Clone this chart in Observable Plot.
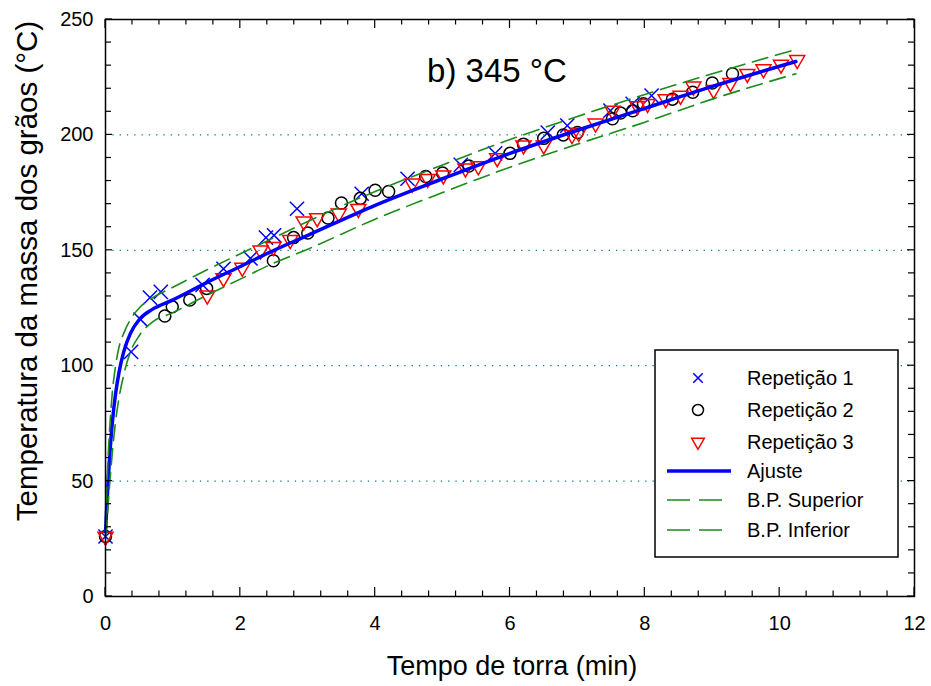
<!DOCTYPE html>
<html><head><meta charset="utf-8">
<script src="https://cdn.jsdelivr.net/npm/d3@7"></script>
<script src="https://cdn.jsdelivr.net/npm/@observablehq/plot@0.6"></script>
<style>body{margin:0;background:#fff} svg{display:block}</style>
</head><body><div id="chart"></div>
<script>
// ---- data ----
const rep1X = [0, 0.38, 0.52, 0.66, 0.82, 1.44, 1.75, 2.15, 2.38, 2.5, 2.84, 3.8, 4.48, 5.27, 5.78, 6.56, 6.85, 7.49, 7.82, 8.1];
const rep1Y = [26, 106, 120, 129.5, 132, 135, 142, 146.5, 155.5, 156.5, 168, 174.5, 181, 187, 192, 201, 204, 210.5, 213.5, 217];

const rep2X = [0, 0.88, 0.99, 1.25, 1.5, 2.49, 2.79, 3.0, 3.3, 3.5, 3.78, 4.0, 4.2, 4.75, 5.0, 5.39, 6.0, 6.2, 6.5, 6.79, 7.0, 7.52, 7.64, 7.82, 7.98, 8.41, 8.71, 9.0, 9.3];
const rep2Y = [26, 121.5, 125.5, 128.5, 133.5, 145.5, 155.5, 157.5, 164, 170.5, 172.5, 176, 175.5, 182, 183.5, 186.5, 192, 196, 198.5, 200, 201, 207, 209.5, 210.5, 213.5, 215.5, 218.5, 222.5, 226.5];

const rep3X = [0, 1.51, 1.75, 2.03, 2.3, 2.49, 2.74, 2.94, 3.14, 3.46, 3.75, 4.55, 4.78, 5.01, 5.34, 5.53, 5.81, 6.2, 6.5, 6.92, 7.02, 7.27, 7.52, 7.89, 8.04, 8.31, 8.53, 8.72, 9.02, 9.27, 9.52, 9.76, 10.02, 10.26];
const rep3Y = [26, 130.5, 138, 142.5, 150, 151.5, 154.5, 162.5, 164, 166, 168, 179, 181, 182.5, 185.5, 186.5, 190, 195.5, 195.5, 200, 201, 205, 210.5, 212.5, 213.5, 215.5, 217, 221, 219.5, 222.5, 226.5, 228.5, 230.5, 232.5];

const fitX   = [0, 0.03, 0.06, 0.1, 0.15, 0.2, 0.27, 0.37, 0.5, 0.7, 1, 1.5, 2, 2.5, 3, 4, 5, 6, 7, 8, 9, 10.24];
const fitY   = [28, 45, 60, 75, 88, 97, 106, 114, 120, 124.5, 128.5, 136, 143, 150, 156.5, 169.5, 181, 192, 202, 211.5, 221, 231.8];
const upperY = [30, 55, 72, 88, 100, 108, 114, 120, 125, 129.5, 134, 141.5, 148.5, 155.5, 162.5, 175.5, 187, 198, 208, 217.5, 226.5, 237];
const lowerY = [26, 36, 48, 62, 76, 86, 96, 106, 113, 119, 123, 130.5, 137.5, 144.5, 150.5, 163.5, 175, 186, 196, 205.5, 215.5, 226.5];

const xTicks = [0, 2, 4, 6, 8, 10, 12];
const yTicks = [0, 50, 100, 150, 200, 250];
const gridValues = [50, 100, 150, 200];

const legendLabels = ["Repetição 1", "Repetição 2", "Repetição 3", "Ajuste", "B.P. Superior", "B.P. Inferior"];
const titleText = "b) 345 °C";
const xLabel = "Tempo de torra (min)";
const yLabel = "Temperatura da massa dos grãos (°C)";

// ---- tables ----
const pts = (xs, ys) => xs.map((x, i) => ({x, y: ys[i]}));
const rep1 = pts(rep1X, rep1Y), rep2 = pts(rep2X, rep2Y), rep3 = pts(rep3X, rep3Y);
const fit = pts(fitX, fitY), upper = pts(fitX, upperY), lower = pts(fitX, lowerY);

const BLUE = "#0000ff", RED = "#ff0000", GREEN = "#1a8c1a", TEAL = "#008080";
const FONT = "Liberation Sans, Arial, sans-serif";

const chart = Plot.plot({
  width: 931, height: 686,
  marginLeft: 105, marginRight: 17, marginTop: 19, marginBottom: 90,
  style: {fontFamily: FONT, fontSize: "20px", color: "#000", background: "#fff"},
  x: {domain: [0, 12]},
  y: {domain: [0, 250]},
  marks: [
    Plot.ruleY(gridValues, {stroke: TEAL, strokeWidth: 1.3, strokeDasharray: "1.3,6", strokeOpacity: 1}),
    Plot.axisX(xTicks, {anchor: "bottom", tickSize: 0, tickPadding: 19, label: null, fontSize: 20}),
    Plot.axisY(yTicks, {anchor: "left", tickSize: 0, tickPadding: 12, label: null, fontSize: 20}),
    Plot.dot(rep1, {x: "x", y: "y", symbol: "times", r: 6.5, stroke: BLUE, strokeWidth: 1.5}),
    Plot.dot(rep2, {x: "x", y: "y", symbol: "circle", r: 6, stroke: "#000", strokeWidth: 1.5, fill: "none"}),
    Plot.dot(rep3, {x: "x", y: "y", symbol: "triangle", r: 5.6, rotate: 180, stroke: RED, strokeWidth: 1.5, fill: "none"}),
    Plot.line(fit, {x: "x", y: "y", stroke: BLUE, strokeWidth: 3.5, curve: "monotone-x"}),
    Plot.line(upper, {x: "x", y: "y", stroke: GREEN, strokeWidth: 1.6, strokeDasharray: "16,8", curve: "monotone-x"}),
    Plot.line(lower, {x: "x", y: "y", stroke: GREEN, strokeWidth: 1.6, strokeDasharray: "16,8", curve: "monotone-x"}),
    Plot.frame({stroke: "#000", strokeWidth: 1.5})
  ]
});
document.getElementById("chart").append(chart);

// ---- inward ticks, drawn through Plot's scales ----
const sx = chart.scale("x"), sy = chart.scale("y");
const X = v => sx.apply(v), Y = v => sy.apply(v);
const [x0, x1] = sx.range, [y0, y1] = sy.range; // y0 bottom, y1 top
const svg = d3.select(chart);
const tg = svg.append("g").attr("stroke", "#000").attr("stroke-width", 1.2);
const xMinor = d3.range(0, 12.0001, 0.4);
xMinor.forEach(v => {
  const major = xTicks.some(t => Math.abs(t - v) < 1e-6);
  const L = major ? 9 : 5.5;
  tg.append("line").attr("x1", X(v)).attr("x2", X(v)).attr("y1", y0).attr("y2", y0 - L);
  tg.append("line").attr("x1", X(v)).attr("x2", X(v)).attr("y1", y1).attr("y2", y1 + L);
});
const yMinor = d3.range(0, 250.0001, 10);
yMinor.forEach(v => {
  const major = yTicks.includes(v);
  const L = major ? 7 : 6;
  tg.append("line").attr("x1", x0).attr("x2", x0 + L).attr("y1", Y(v)).attr("y2", Y(v));
  tg.append("line").attr("x1", x1).attr("x2", x1 - L).attr("y1", Y(v)).attr("y2", Y(v));
});

// ---- titles ----
const txt = (sel) => sel.attr("font-family", FONT).attr("fill", "#000");
txt(svg.append("text")).attr("x", 512).attr("y", 675).attr("text-anchor", "middle")
  .attr("font-size", 27).text(xLabel);
txt(svg.append("text")).attr("transform", `translate(37,271) rotate(-90)`).attr("text-anchor", "middle")
  .attr("font-size", 29.5).text(yLabel);
txt(svg.append("text")).attr("x", 497).attr("y", 82).attr("text-anchor", "middle")
  .attr("font-size", 33).text(titleText);

// ---- legend ----
const lg = svg.append("g");
lg.append("rect").attr("x", 655).attr("y", 350).attr("width", 243).attr("height", 207)
  .attr("fill", "#fff").attr("stroke", "#000").attr("stroke-width", 1.5);
const rowY = [378, 410, 442, 471, 500, 530];
const symX = 698, textX = 747;
const sym = (type, size) => d3.symbol(type, size)();
lg.append("path").attr("d", sym(d3.symbolX, 60)).attr("transform", `translate(${symX},${rowY[0]})`)
  .attr("fill", "none").attr("stroke", BLUE).attr("stroke-width", 1.5);
lg.append("circle").attr("cx", symX).attr("cy", rowY[1]).attr("r", 5.5)
  .attr("fill", "none").attr("stroke", "#000").attr("stroke-width", 1.5);
lg.append("path").attr("d", sym(d3.symbolTriangle, 70)).attr("transform", `translate(${symX},${rowY[2]}) rotate(180)`)
  .attr("fill", "none").attr("stroke", RED).attr("stroke-width", 1.5);
lg.append("line").attr("x1", 667).attr("x2", 731).attr("y1", rowY[3]).attr("y2", rowY[3])
  .attr("stroke", BLUE).attr("stroke-width", 3.5);
[4, 5].forEach(i => lg.append("line").attr("x1", 667).attr("x2", 731).attr("y1", rowY[i]).attr("y2", rowY[i])
  .attr("stroke", GREEN).attr("stroke-width", 1.6).attr("stroke-dasharray", "23,9"));
legendLabels.forEach((t, i) => txt(lg.append("text")).attr("x", textX).attr("y", rowY[i]).attr("dy", "0.35em")
  .attr("text-anchor", "start").attr("font-size", 20).text(t));
</script>
</body></html>
